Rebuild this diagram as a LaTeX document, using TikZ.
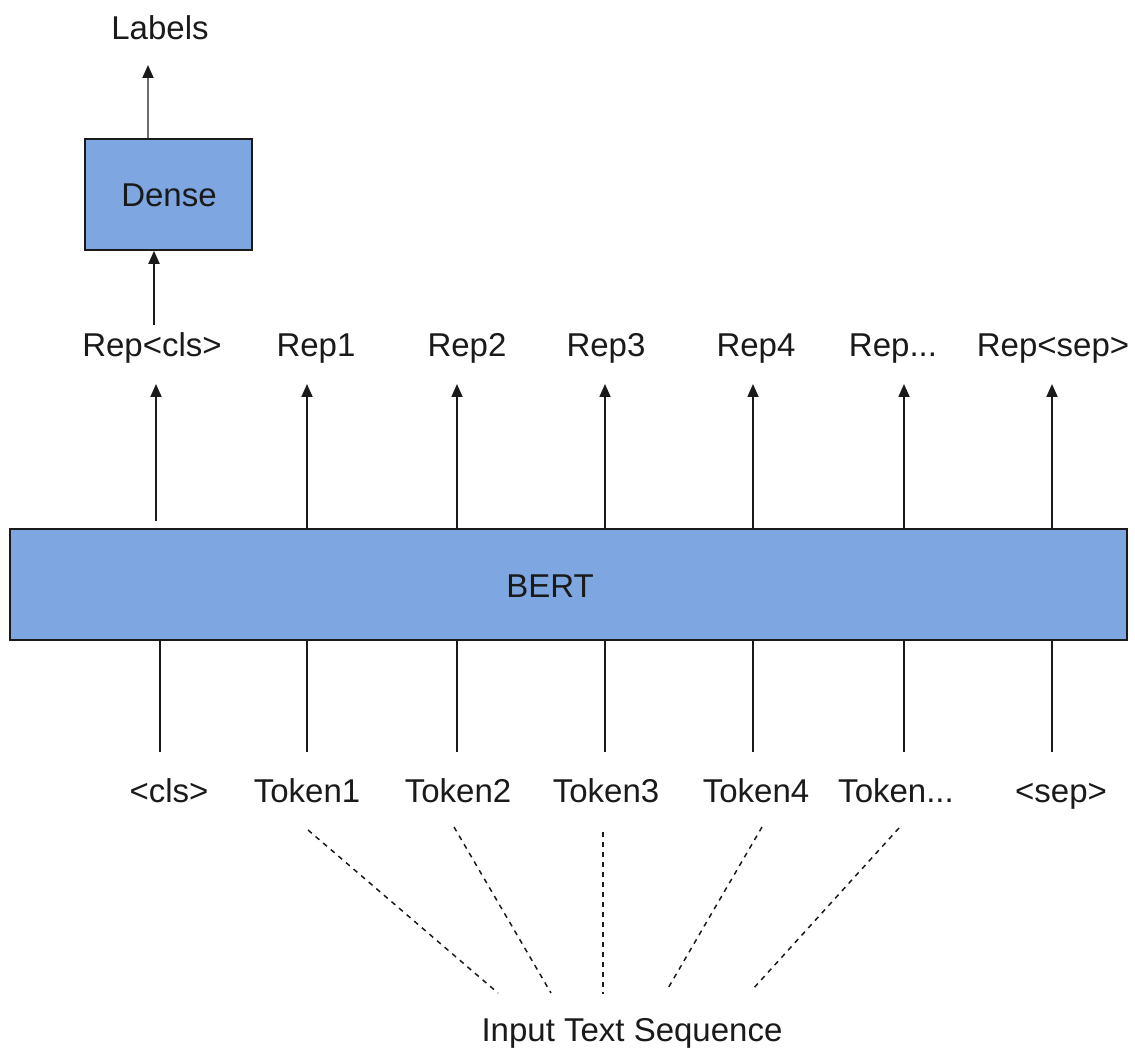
\documentclass[tikz,border=0pt]{standalone}
\usepackage{fontspec}
\setmainfont{Liberation Sans}
\usetikzlibrary{arrows.meta}
\definecolor{boxblue}{HTML}{7EA6E0}
\definecolor{ink}{HTML}{1A1A1A}
\tikzset{
  blockbox/.style={draw=ink, line width=1.6pt, fill=boxblue, inner sep=0pt},
  txt/.style={text=ink, font=\fontsize{33}{38}\selectfont, inner sep=0pt, text height=23pt, text depth=7pt},
  uparrow/.style={draw=ink, line width=1.8pt, -{Stealth[length=13pt,width=11pt,inset=0pt]}},
  plainline/.style={draw=ink, line width=1.8pt},
  dashline/.style={draw=ink, line width=1.5pt, dash pattern=on 5pt off 5pt}
}
\begin{document}
\begin{tikzpicture}[x=1pt,y=-1pt]
\useasboundingbox (0,0) rectangle (1135,1048);
% boxes
\node[blockbox, minimum width=1117pt, minimum height=111pt] (bert) at (568.5,584.5) {};
\node[txt] (berttext) at (550,589) {BERT};
\node[blockbox, minimum width=167pt, minimum height=111pt] (dense) at (168.5,194.5) {};
\node[txt] (densetext) at (169,199) {Dense};
\node[txt] (labels) at (160,32) {Labels};
% rep labels
\node[txt] (rcls) at (152,349) {Rep<cls>};
\node[txt] (r1) at (316,349) {Rep1};
\node[txt] (r2) at (467,349) {Rep2};
\node[txt] (r3) at (606,349) {Rep3};
\node[txt] (r4) at (756,349) {Rep4};
\node[txt] (rdots) at (893,349) {Rep...};
\node[txt] (rsep) at (1053,349) {Rep<sep>};
% token labels
\node[txt] (tcls) at (169,794) {<cls>};
\node[txt] (t1) at (307,794) {Token1};
\node[txt] (t2) at (458,794) {Token2};
\node[txt] (t3) at (606,794) {Token3};
\node[txt] (t4) at (756,794) {Token4};
\node[txt] (tdots) at (896,794) {Token...};
\node[txt] (tsep) at (1061,794) {<sep>};
\node[txt] (input) at (632,1033) {Input Text Sequence};
% coordinates for column ends
\coordinate (ucls) at (156,384); \coordinate (scls) at (156,521);
\coordinate (u1) at (307,384); \coordinate (u2) at (457,384);
\coordinate (u3) at (605,384); \coordinate (u4) at (753,384);
\coordinate (u5) at (904,384); \coordinate (u6) at (1052,384);
\coordinate (lcls) at (160,752); \coordinate (l1) at (307,752);
\coordinate (l2) at (457,752); \coordinate (l3) at (605,752);
\coordinate (l4) at (753,752); \coordinate (l5) at (904,752);
\coordinate (l6) at (1052,752);
% upward arrows
\draw[uparrow] (scls) -- (ucls);
\foreach \c in {u1,u2,u3,u4,u5,u6} \draw[uparrow] (bert.north -| \c) -- (\c);
% lower lines
\foreach \c in {lcls,l1,l2,l3,l4,l5,l6} \draw[plainline] (bert.south -| \c) -- (\c);
% dense arrows
\coordinate (rclstop) at (154,325);
\draw[uparrow] (rclstop) -- (dense.south -| rclstop);
\coordinate (labelsbot) at (148,65);
\draw[draw=gray!85!black, line width=1.8pt, -{Stealth[length=13pt,width=11pt,inset=0pt,color=ink]}] (dense.north -| labelsbot) -- (labelsbot);
% dashed lines
\coordinate (d1a) at (308,830); \coordinate (d1b) at (498,993);
\coordinate (d2a) at (454,827); \coordinate (d2b) at (551,993);
\coordinate (d3a) at (603,832); \coordinate (d3b) at (603,994);
\coordinate (d4a) at (762,827); \coordinate (d4b) at (667,990);
\coordinate (d5a) at (899,828); \coordinate (d5b) at (752,990);
\draw[dashline] (d1a) -- (d1b);
\draw[dashline] (d2a) -- (d2b);
\draw[dashline] (d3a) -- (d3b);
\draw[dashline] (d4a) -- (d4b);
\draw[dashline] (d5a) -- (d5b);
\end{tikzpicture}
\end{document}
